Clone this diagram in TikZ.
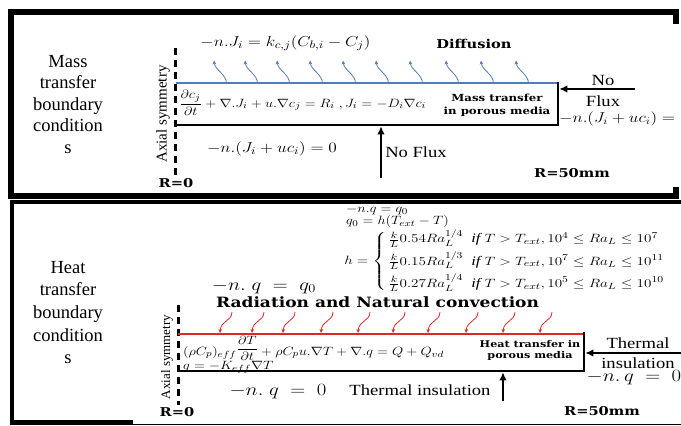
\documentclass[tikz,border=0pt]{standalone}
\usepackage{amsmath}
\usepackage{fontspec}
\setmainfont{Liberation Serif}
\newfontfamily\wideserif{DejaVu Serif}
\usetikzlibrary{arrows.meta}
\definecolor{fluxblue}{RGB}{84,125,184}
\definecolor{heatred}{RGB}{226,38,38}
\tikzset{
  sidelabel/.style={font=\fontsize{18.5}{21.5}\selectfont, align=center},
  plainlbl/.style={font=\fontsize{15.5}{18}\selectfont, xscale=1.2},
  boldlbl/.style={font=\wideserif\bfseries\fontsize{12.2}{14}\selectfont, xscale=1.2},
  smallbold/.style={font=\wideserif\bfseries\fontsize{9.8}{13}\selectfont, xscale=1.2, align=center},
  eqn/.style={font=\fontsize{14.5}{17}\selectfont, xscale=1.2, inner sep=0pt},
  frameline/.style={line width=6pt},
  axisline/.style={line width=3pt, dash pattern=on 7pt off 5pt},
  wall/.style={line width=2.5pt},
  bigarrow/.style={line width=2.6pt, -{Latex[length=8pt,width=7.5pt]}},
  bluecurl/.style={fluxblue, line width=0.8pt, -{Stealth[length=4pt,width=3.6pt]}},
  redcurl/.style={heatred, line width=0.8pt, -{Stealth[length=4pt,width=3.6pt]}},
  axislbl/.style={rotate=90, font=\fontsize{15}{15}\selectfont, inner sep=0pt},
}
\begin{document}
\begin{tikzpicture}[x=1pt,y=-1pt]
\useasboundingbox (0,0) rectangle (681,426);
% ---------- frames ----------
\draw[frameline] (676,24) -- (676,12) -- (11,12) -- (11,196) -- (676,196) -- (676,187);
\draw[line width=4.5pt] (681,202) -- (12,202) -- (12,422.5) -- (133,422.5);
\draw[line width=1.2pt] (133,424.4) -- (681,424.4);

% ---------- top panel: mass transfer ----------
\node[sidelabel] (masslbl) at (68,104.5) {Mass\\transfer\\boundary\\condition\\s};
\node[axislbl] (axisA) at (163,114) {Axial symmetry};
\draw[axisline] (175,48) -- (175,180);
\node[boldlbl] (rzeroA) at (176,183) {R=0};

\draw[fluxblue, line width=2pt] (176,83) -- (557,83);
\draw[wall] (558,81.8) -- (558,125) -- (176,125);
\foreach \x in {214,245,277,310,343,376,410,446,481,516}{
  \draw[bluecurl] (\x+12.5,83) .. controls (\x+12,74) and (\x+1,70) .. (\x,60.5);
}
\node[eqn, font=\fontsize{15}{17}\selectfont] (eqtop) at (285.5,43) {$-n.J_i = k_{c,j}(C_{b,i}-C_j)$};
\node[boldlbl] (diff) at (474,44) {Diffusion};
\node[eqn, anchor=base west, font=\fontsize{12.2}{15}\selectfont] (masseq) at (179,107)
  {$\dfrac{\partial c_j}{\partial t}+\nabla.J_i+u.\nabla c_j=R_i\;,J_i=-D_i\nabla c_i$};
\node[smallbold] (mtbox) at (497,105.5) {Mass transfer\\in porous media};
\node[plainlbl] (nolbl) at (603,80) {No};
\node[plainlbl] (fluxlbl) at (603,101.5) {Flux};
\node[eqn, anchor=west, font=\fontsize{14}{16}\selectfont] (nfeqR) at (559,119) {$-n.(J_i+uc_i)=$};
\node[eqn, font=\fontsize{15.5}{17}\selectfont] (nfeq) at (272,149) {$-n.(J_i+uc_i)=0$};
\node[plainlbl] (nofluxlbl) at (416,152) {No Flux};
\node[boldlbl] (rfiftyA) at (572,173) {R=50mm};
\coordinate (tailA) at (635,89);
\coordinate (boxRA) at (559.3,89);
\draw[bigarrow] (tailA) -- (boxRA);
\coordinate (tailB) at (381,178);
\coordinate (boxBA) at (381,126.3);
\draw[bigarrow] (tailB) -- (boxBA);

% ---------- bottom panel: heat transfer ----------
\node[sidelabel, font=\fontsize{18.5}{22.7}\selectfont] (heatlbl) at (68,312.5) {Heat\\transfer\\boundary\\condition\\s};
\node[axislbl, font=\fontsize{13}{13}\selectfont] (axisB) at (167,357) {Axial symmetry};
\draw[axisline] (178,305) -- (178,405);
\node[boldlbl] (rzeroB) at (177,412) {R=0};

\node[eqn, anchor=west, font=\fontsize{12.5}{13}\selectfont] (qtopA) at (346,210) {$-n.q=q_0$};
\node[eqn, anchor=west, font=\fontsize{12.8}{13}\selectfont] (qtopB) at (346,221.5) {$q_0=h(T_{ext}-T)$};
\node[eqn, anchor=west, font=\fontsize{13}{14}\selectfont, xscale=1.26/1.2] (hcases) at (344,261)
  {$h=\begin{cases}
  \,\frac{k}{L}0.54Ra_L^{1/4}\ \ \mathit{if}\ T>T_{ext},10^4\le Ra_L\le 10^7\\[4pt]
  \,\frac{k}{L}0.15Ra_L^{1/3}\ \ \mathit{if}\ T>T_{ext},10^7\le Ra_L\le 10^{11}\\[4pt]
  \,\frac{k}{L}0.27Ra_L^{1/4}\ \ \mathit{if}\ T>T_{ext},10^5\le Ra_L\le 10^{10}
  \end{cases}$};
\node[eqn, font=\fontsize{16.5}{18}\selectfont] (qqzero) at (264,287) {$-n.\;q\;=\;q_0$};
\node[boldlbl, font=\wideserif\bfseries\fontsize{14.2}{16}\selectfont] (radlbl) at (377.5,302) {Radiation and Natural convection};

\draw[heatred, line width=2pt] (178,333.5) -- (583,333.5);
\draw[wall] (584,332.3) -- (584,371) -- (178,371);
\foreach \x in {220,252,283,321,358,393,428,466,503,540}{
  \draw[redcurl] (\x+12,312) .. controls (\x+11.5,322) and (\x+1,320) .. (\x,333);
}
\node[eqn, anchor=base west, font=\fontsize{12.5}{15}\selectfont] (heateq) at (183,355)
  {$(\rho C_p)_{eff}\raisebox{2.5pt}{$\dfrac{\partial T}{\partial t}$}+\rho C_p u.\nabla T+\nabla.q=Q+Q_{vd}$};
\node[eqn, anchor=base west, font=\fontsize{13}{15}\selectfont] (qeq) at (183,369)
  {$q=-K_{eff}\nabla T$};
\node[smallbold, font=\wideserif\bfseries\fontsize{9.3}{11}\selectfont] (htbox) at (530,350) {Heat transfer in\\porous media};
\node[plainlbl] (thermlbl) at (638,343) {Thermal};
\node[plainlbl] (insullbl) at (638,363) {insulation};
\node[eqn, font=\fontsize{16}{18}\selectfont] (nqzeroR) at (634,378) {$-n.\,q\;=\;0$};
\node[eqn, font=\fontsize{16.5}{18}\selectfont] (nqzero) at (278,392) {$-n.\;q\;=\;0$};
\node[plainlbl] (tilbl) at (420,390) {Thermal insulation};
\node[boldlbl] (rfiftyB) at (602,411) {R=50mm};
\coordinate (tailC) at (681,353);
\coordinate (boxRB) at (585.3,353);
\draw[bigarrow] (tailC) -- (boxRB);
\coordinate (tailD) at (503,401);
\coordinate (boxBB) at (503,372.3);
\draw[bigarrow] (tailD) -- (boxBB);
\end{tikzpicture}
\end{document}
